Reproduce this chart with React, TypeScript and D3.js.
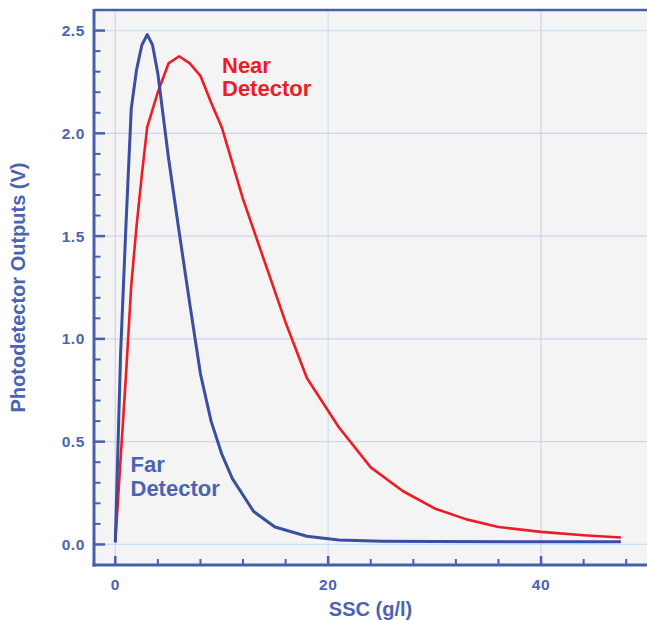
import React from "react";
import * as d3 from "d3";

const farX = [0, 0.5, 1, 1.5, 2, 2.5, 3, 3.5, 4, 5, 6, 7, 8, 9, 10, 11, 13, 15, 18, 21, 25, 30, 40, 47.5];
const farY = [0.01, 0.93, 1.55, 2.12, 2.31, 2.43, 2.48, 2.43, 2.29, 1.88, 1.52, 1.17, 0.83, 0.6, 0.44, 0.32, 0.16, 0.085, 0.04, 0.022, 0.016, 0.014, 0.013, 0.013];

const nearX = [0, 1, 1.5, 2, 2.5, 3, 4, 5, 6, 7, 8, 9, 10, 12, 14, 16, 18, 21, 24, 27, 30, 33, 36, 40, 44, 47.5];
const nearY = [0.01, 0.82, 1.26, 1.55, 1.8, 2.03, 2.2, 2.34, 2.375, 2.34, 2.28, 2.15, 2.03, 1.68, 1.38, 1.08, 0.81, 0.57, 0.375, 0.26, 0.175, 0.122, 0.085, 0.061, 0.045, 0.034];

const yMajor = [0, 0.5, 1, 1.5, 2, 2.5];
const yMinor = [0.1, 0.2, 0.3, 0.4, 0.6, 0.7, 0.8, 0.9, 1.1, 1.2, 1.3, 1.4, 1.6, 1.7, 1.8, 1.9, 2.1, 2.2, 2.3, 2.4];
const xMajor = [0, 20, 40];
const xMinor = [4, 8, 12, 16, 24, 28, 32, 36, 44, 48];

const W = 647;
const H = 620;
const FONT = "'Liberation Sans', Arial, Helvetica, sans-serif";
const AXIS = "#4760ad";
const TEXT = "#4a63b2";
const BLUE = "#3a4ea2";
const RED = "#ee1c24";
const GRID_A = "#cfd3f0";
const GRID_B = "#c6e2f6";

export default function App() {
  const left = 94;
  const right = 647;
  const top = 10;
  const bottom = 565;
  const x = d3.scaleLinear().domain([-2, 50]).range([left, right + 0.5]);
  const y = d3.scaleLinear().domain([-0.1, 2.6]).range([bottom, top]);

  const line = d3
    .line<[number, number]>()
    .x((d) => x(d[0]))
    .y((d) => y(d[1]))
    .curve(d3.curveLinear);

  const far = line(farX.map((v, i) => [v, farY[i]] as [number, number])) || "";
  const near = line(nearX.map((v, i) => [v, nearY[i]] as [number, number])) || "";

  return (
    <svg
      width={W}
      height={H}
      style={{ position: "absolute", left: 0, top: 0, background: "#fff" }}
      fontFamily={FONT}
    >
      <rect x={left} y={top} width={right - left} height={bottom - top} fill="#f4f4f4" />
      {yMajor.map((v) => (
        <line
          key={"gy" + v}
          x1={left}
          x2={right}
          y1={y(v)}
          y2={y(v)}
          stroke={v === 0 || v === 2.5 ? GRID_B : GRID_A}
          strokeWidth={1.2}
        />
      ))}
      {xMajor.map((v) => (
        <line
          key={"gx" + v}
          x1={x(v)}
          x2={x(v)}
          y1={top}
          y2={bottom}
          stroke={v === 20 ? GRID_B : GRID_A}
          strokeWidth={1.2}
        />
      ))}
      <path d={near} fill="none" stroke={RED} strokeWidth={2.6} strokeLinejoin="round" />
      <path d={far} fill="none" stroke={BLUE} strokeWidth={3} strokeLinejoin="round" />

      {/* frame */}
      <line x1={left} x2={right} y1={top} y2={top} stroke={AXIS} strokeWidth={2.5} />
      <line x1={left} x2={left} y1={top - 1} y2={bottom + 1.5} stroke={AXIS} strokeWidth={3} />
      <line x1={left - 1.5} x2={right} y1={bottom} y2={bottom} stroke={AXIS} strokeWidth={3} />

      {yMajor.map((v) => (
        <line key={"ty" + v} x1={left} x2={left + 11} y1={y(v)} y2={y(v)} stroke={AXIS} strokeWidth={2.5} />
      ))}
      {yMinor.map((v) => (
        <line key={"tym" + v} x1={left} x2={left + 6.5} y1={y(v)} y2={y(v)} stroke={AXIS} strokeWidth={2} />
      ))}
      {xMajor.map((v) => (
        <line key={"tx" + v} x1={x(v)} x2={x(v)} y1={bottom} y2={bottom - 9} stroke={AXIS} strokeWidth={2.5} />
      ))}
      {xMinor.map((v) => (
        <line key={"txm" + v} x1={x(v)} x2={x(v)} y1={bottom} y2={bottom - 6} stroke={AXIS} strokeWidth={2} />
      ))}

      {yMajor.map((v) => (
        <text
          key={"ly" + v}
          x={85}
          y={y(v)}
          dy="0.36em"
          textAnchor="end"
          fontSize={15.5}
          fontWeight="bold"
          letterSpacing={0.6}
          fill={TEXT}
        >
          {d3.format(".1f")(v)}
        </text>
      ))}
      {xMajor.map((v) => (
        <text
          key={"lx" + v}
          x={x(v)}
          y={589.5}
          textAnchor="middle"
          fontSize={15.5}
          fontWeight="bold"
          letterSpacing={0.6}
          fill={TEXT}
        >
          {v}
        </text>
      ))}

      <text x={(left + right) / 2} y={616} textAnchor="middle" fontSize={20} fontWeight="bold" fill={TEXT}>
        SSC (g/l)
      </text>
      <text
        transform={`translate(25, ${(top + bottom) / 2}) rotate(-90)`}
        textAnchor="middle"
        fontSize={20}
        fontWeight="bold"
        fill={TEXT}
      >
        Photodetector Outputs (V)
      </text>

      <text x={222} y={72.5} fontSize={22} fontWeight="bold" fill={RED}>
        Near
      </text>
      <text x={222} y={95.5} fontSize={22} fontWeight="bold" fill={RED}>
        Detector
      </text>
      <text x={130.5} y={472} fontSize={22} fontWeight="bold" fill={TEXT}>
        Far
      </text>
      <text x={130.5} y={495.5} fontSize={22} fontWeight="bold" fill={TEXT}>
        Detector
      </text>
    </svg>
  );
}
